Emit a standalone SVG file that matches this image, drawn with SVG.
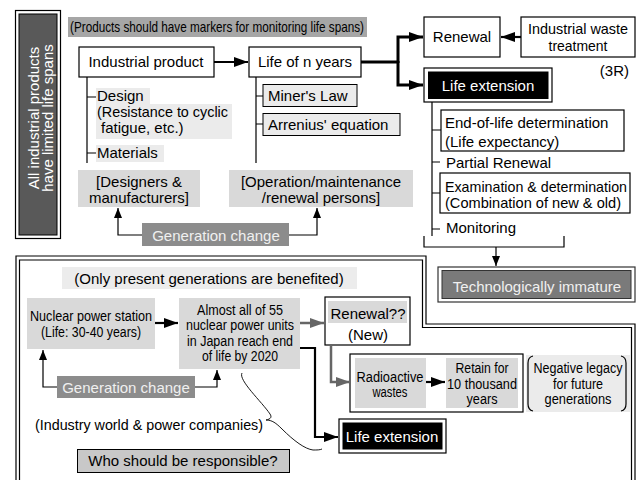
<svg xmlns="http://www.w3.org/2000/svg" width="639" height="480" viewBox="0 0 639 480">
<style>
text{font-family:"Liberation Sans",Arial,Helvetica,sans-serif;font-size:15px;fill:#000}
.c{text-anchor:middle}
.n{font-size:14px}
.w{fill:#fff}
.lt{fill:#f0f0f0}
.box{fill:#fff;stroke:#000;stroke-width:1.2}
.ln{fill:none;stroke:#000;stroke-width:1.2}
.th{fill:none;stroke:#000;stroke-width:3}
.md{fill:none;stroke:#000;stroke-width:2.2}
.gy{fill:none;stroke:#666;stroke-width:2.5}
</style>
<defs>
<marker id="ah" viewBox="0 0 10 8" refX="10" refY="4" markerWidth="10" markerHeight="8" markerUnits="userSpaceOnUse" orient="auto"><path d="M0,0 L10,4 L0,8 z" fill="#000"/></marker>
<marker id="ahb" viewBox="0 0 14 10" refX="14" refY="5" markerWidth="14" markerHeight="10" markerUnits="userSpaceOnUse" orient="auto"><path d="M0,0 L14,5 L0,10 z" fill="#000"/></marker>
<marker id="ahg" viewBox="0 0 14 10" refX="14" refY="5" markerWidth="14" markerHeight="10" markerUnits="userSpaceOnUse" orient="auto"><path d="M0,0 L14,5 L0,10 z" fill="#666"/></marker>
</defs>
<rect width="639" height="480" fill="#fff"/>

<g id="frame-bottom">
<path class="ln" d="M16,480 V256 H426 V324 H635 V480"/>
<path class="ln" d="M19.5,480 V260 H422.5 V327.5 H631.5 V480"/>
</g>

<g id="all-products">
<rect class="box" x="15.5" y="10.5" width="45" height="228"/>
<rect x="19" y="14" width="38" height="221" fill="#595959" stroke="#000" stroke-width="1"/>
<text class="c w" transform="translate(38.5,118) rotate(-90)" font-size="15.5">All industrial products</text>
<text class="c w" transform="translate(53,118) rotate(-90)" font-size="15.5">have limited life spans</text>
</g>

<g id="banner">
<rect x="68" y="17" width="299" height="20" fill="#a6a6a6"/>
<text x="70" y="32" font-size="14" textLength="294" lengthAdjust="spacingAndGlyphs">(Products should have markers for monitoring life spans)</text>
</g>

<g id="industrial-product">
<rect class="box" x="79" y="47" width="135" height="30"/>
<text class="c" x="146" y="67">Industrial product</text>
</g>
<g id="design">
<rect x="96" y="88" width="54" height="16" fill="#ebebeb"/>
<rect x="96" y="104" width="136" height="35" fill="#ebebeb"/>
<text x="97" y="100.5" font-size="14">Design</text>
<text x="97" y="116.5" font-size="13.5" textLength="131" lengthAdjust="spacingAndGlyphs">(Resistance to cyclic</text>
<text x="101" y="132.5" font-size="13.5">fatigue, etc.)</text>
</g>
<g id="materials">
<rect x="96" y="145" width="68" height="17" fill="#ebebeb"/>
<text x="97" y="158">Materials</text>
</g>
<g id="designers">
<rect x="78" y="170" width="122" height="37" fill="#d9d9d9"/>
<text class="c" x="139" y="187">[Designers &amp;</text>
<text class="c" x="139" y="203">manufacturers]</text>
</g>

<g id="life-n-years">
<rect class="box" x="249" y="47" width="112" height="30"/>
<text class="c" x="305" y="67">Life of n years</text>
</g>
<g id="miners-law">
<rect x="263" y="84.5" width="94" height="22" fill="#ebebeb" stroke="#000" stroke-width="1"/>
<text x="268" y="101">Miner's Law</text>
</g>
<g id="arrenius">
<rect x="263" y="113.5" width="137" height="22" fill="#ebebeb" stroke="#000" stroke-width="1"/>
<text x="268" y="130">Arrenius' equation</text>
</g>
<g id="operation">
<rect x="229" y="170" width="184" height="37" fill="#d9d9d9"/>
<text class="c" x="321" y="187">[Operation/maintenance</text>
<text class="c" x="321" y="203">/renewal persons]</text>
</g>
<g id="generation-change-top">
<rect x="142" y="223" width="147" height="23" fill="#8c8c8c"/>
<text class="c lt" x="216" y="241" font-size="15.5">Generation change</text>
</g>

<g id="renewal">
<rect class="box" x="424" y="17" width="76" height="40"/>
<text class="c" x="462" y="42">Renewal</text>
</g>
<g id="waste-treatment">
<rect class="box" x="521" y="17" width="114" height="40"/>
<text class="c" x="578" y="34" font-size="14.5" textLength="100" lengthAdjust="spacingAndGlyphs">Industrial waste</text>
<text class="c" x="578" y="51" font-size="14.5" textLength="59" lengthAdjust="spacingAndGlyphs">treatment</text>
</g>
<text x="629" y="76" text-anchor="end">(3R)</text>

<g id="life-extension-top">
<rect class="box" x="424" y="68" width="128" height="34"/>
<rect x="428" y="71.5" width="120.5" height="27.5" fill="#000"/>
<text class="c w" x="488" y="91" font-size="15.5">Life extension</text>
</g>
<g id="end-of-life">
<rect class="box" x="441" y="110" width="183" height="41"/>
<text x="445" y="128">End-of-life determination</text>
<text x="445" y="147">(Life expectancy)</text>
</g>
<g id="partial-renewal">
<text x="446" y="168">Partial Renewal</text>
</g>
<g id="examination">
<rect class="box" x="440" y="173" width="190" height="40"/>
<text x="445" y="192" font-size="15" textLength="182" lengthAdjust="spacingAndGlyphs">Examination &amp; determination</text>
<text x="445" y="208" font-size="15" textLength="176" lengthAdjust="spacingAndGlyphs">(Combination of new &amp; old)</text>
</g>
<g id="monitoring">
<text x="446" y="233">Monitoring</text>
</g>
<g id="tech-immature">
<rect x="438" y="267" width="197" height="35" fill="#fff" stroke="#333" stroke-width="1.2"/>
<rect x="442" y="270.5" width="189" height="28" fill="#7a7a7a" stroke="#333" stroke-width="1"/>
<text class="c lt" x="537" y="292" font-size="15.5">Technologically immature</text>
</g>

<g id="only-present">
<rect x="62" y="267" width="295" height="22" fill="#ececec"/>
<text class="c" x="209" y="284">(Only present generations are benefited)</text>
</g>
<g id="nuclear-station">
<rect x="27" y="298" width="128" height="51" fill="#d9d9d9"/>
<text class="c n" x="91" y="321" textLength="122" lengthAdjust="spacingAndGlyphs">Nuclear power station</text>
<text class="c n" x="91" y="337" textLength="100" lengthAdjust="spacingAndGlyphs">(Life: 30-40 years)</text>
</g>
<g id="almost-all">
<rect x="179" y="298" width="121" height="71" fill="#d9d9d9"/>
<text class="c n" x="240" y="315" textLength="86" lengthAdjust="spacingAndGlyphs">Almost all of 55</text>
<text class="c n" x="240" y="330" textLength="108" lengthAdjust="spacingAndGlyphs">nuclear power units</text>
<text class="c n" x="240" y="346" textLength="106" lengthAdjust="spacingAndGlyphs">in Japan reach end</text>
<text class="c n" x="240" y="361" textLength="76" lengthAdjust="spacingAndGlyphs">of life by 2020</text>
</g>
<g id="generation-change-bottom">
<rect x="57" y="376" width="138" height="22" fill="#8c8c8c"/>
<text class="c lt" x="126" y="393" font-size="15.5">Generation change</text>
</g>
<g id="renewal-new">
<rect class="box" x="325" y="297" width="85" height="48"/>
<rect x="328" y="301" width="79" height="22" fill="#d9d9d9"/>
<text class="c" x="368" y="319" font-size="14.5">Renewal??</text>
<text class="c" x="368" y="340" font-size="14.5">(New)</text>
</g>
<g id="radioactive-group">
<rect class="box" x="350" y="354" width="173" height="58"/>
<rect x="355" y="358" width="71" height="50" fill="#d9d9d9"/>
<text class="c n" x="390" y="382" textLength="67" lengthAdjust="spacingAndGlyphs">Radioactive</text>
<text class="c n" x="390" y="397" textLength="35" lengthAdjust="spacingAndGlyphs">wastes</text>
<rect x="446" y="358" width="72" height="50" fill="#d9d9d9"/>
<text class="c n" x="482" y="373" textLength="53" lengthAdjust="spacingAndGlyphs">Retain for</text>
<text class="c n" x="482" y="389" textLength="70" lengthAdjust="spacingAndGlyphs">10 thousand</text>
<text class="c n" x="482" y="404" textLength="31" lengthAdjust="spacingAndGlyphs">years</text>
</g>
<g id="negative-legacy">
<rect x="526" y="355" width="104" height="57" fill="#ebebeb"/>
<path class="ln" stroke-width="1" d="M533,356 Q528,357 528,363 V404 Q528,410 533,411"/>
<path class="ln" stroke-width="1" d="M621,356 Q626,357 626,363 V404 Q626,410 621,411"/>
<text class="c n" x="578" y="373" textLength="89" lengthAdjust="spacingAndGlyphs">Negative legacy</text>
<text class="c n" x="578" y="389" textLength="50" lengthAdjust="spacingAndGlyphs">for future</text>
<text class="c n" x="578" y="404" textLength="67" lengthAdjust="spacingAndGlyphs">generations</text>
</g>
<g id="industry-world">
<text x="35" y="430" font-size="14.5" textLength="228" lengthAdjust="spacingAndGlyphs">(Industry world &amp; power companies)</text>
</g>
<g id="who-responsible">
<rect x="77.5" y="449.5" width="212" height="23" fill="#c8c8c8" stroke="#000" stroke-width="1"/>
<text class="c" x="183" y="466" font-size="15.5">Who should be responsible?</text>
</g>
<g id="life-extension-bottom">
<rect class="box" x="339" y="419" width="107" height="34"/>
<rect x="342.5" y="422.5" width="100" height="27" fill="#000"/>
<text class="c w" x="392" y="442" font-size="16">Life extension</text>
</g>

<g id="connectors">
<path class="md" d="M214,62 H248" marker-end="url(#ahb)"/>
<path class="th" d="M361,62 H398"/>
<path class="th" d="M398,63 V37 H423" marker-end="url(#ahb)"/>
<path class="th" d="M398,61 V85 H423" marker-end="url(#ahb)"/>
<path class="md" d="M521,37 H501" marker-end="url(#ahb)"/>
<path class="ln" d="M87,77 V163 M87,97 H96 M87,153 H96"/>
<path class="ln" d="M256,77 V163 M256,96 H263 M256,124 H263"/>
<path class="ln" d="M142,235 H118 V208" marker-end="url(#ah)"/>
<path class="ln" d="M289,235 H317 V208" marker-end="url(#ah)"/>
<path class="ln" d="M432,102 V236 M432,130 H441 M432,162 H440 M432,193 H440 M432,229 H440"/>
<path class="ln" d="M424,236 V247 H564 V236"/>
<path class="ln" d="M496,247 V266" marker-end="url(#ah)"/>
<path class="md" d="M155,323 H178" marker-end="url(#ahb)"/>
<path class="ln" d="M57,387 H43 V350" marker-end="url(#ah)"/>
<path class="ln" d="M195,387 H217 V370" marker-end="url(#ah)"/>
<path class="gy" d="M300,323 H324" marker-end="url(#ahg)"/>
<path class="gy" d="M331,345 V382 H350" marker-end="url(#ahg)"/>
<path class="md" d="M426,382 H445" marker-end="url(#ahb)"/>
<path class="md" d="M300,348 H315 V437 H338" marker-end="url(#ahb)"/>
<path fill="none" stroke="#000" stroke-width="0.9" d="M242,373 C238,380 262,402 270,414 C272,417 271,419 266,420 C272,420 276,423 282,429 C294,441 305,449 313,450 C317,450 320,450 322,449"/>
</g>
</svg>
